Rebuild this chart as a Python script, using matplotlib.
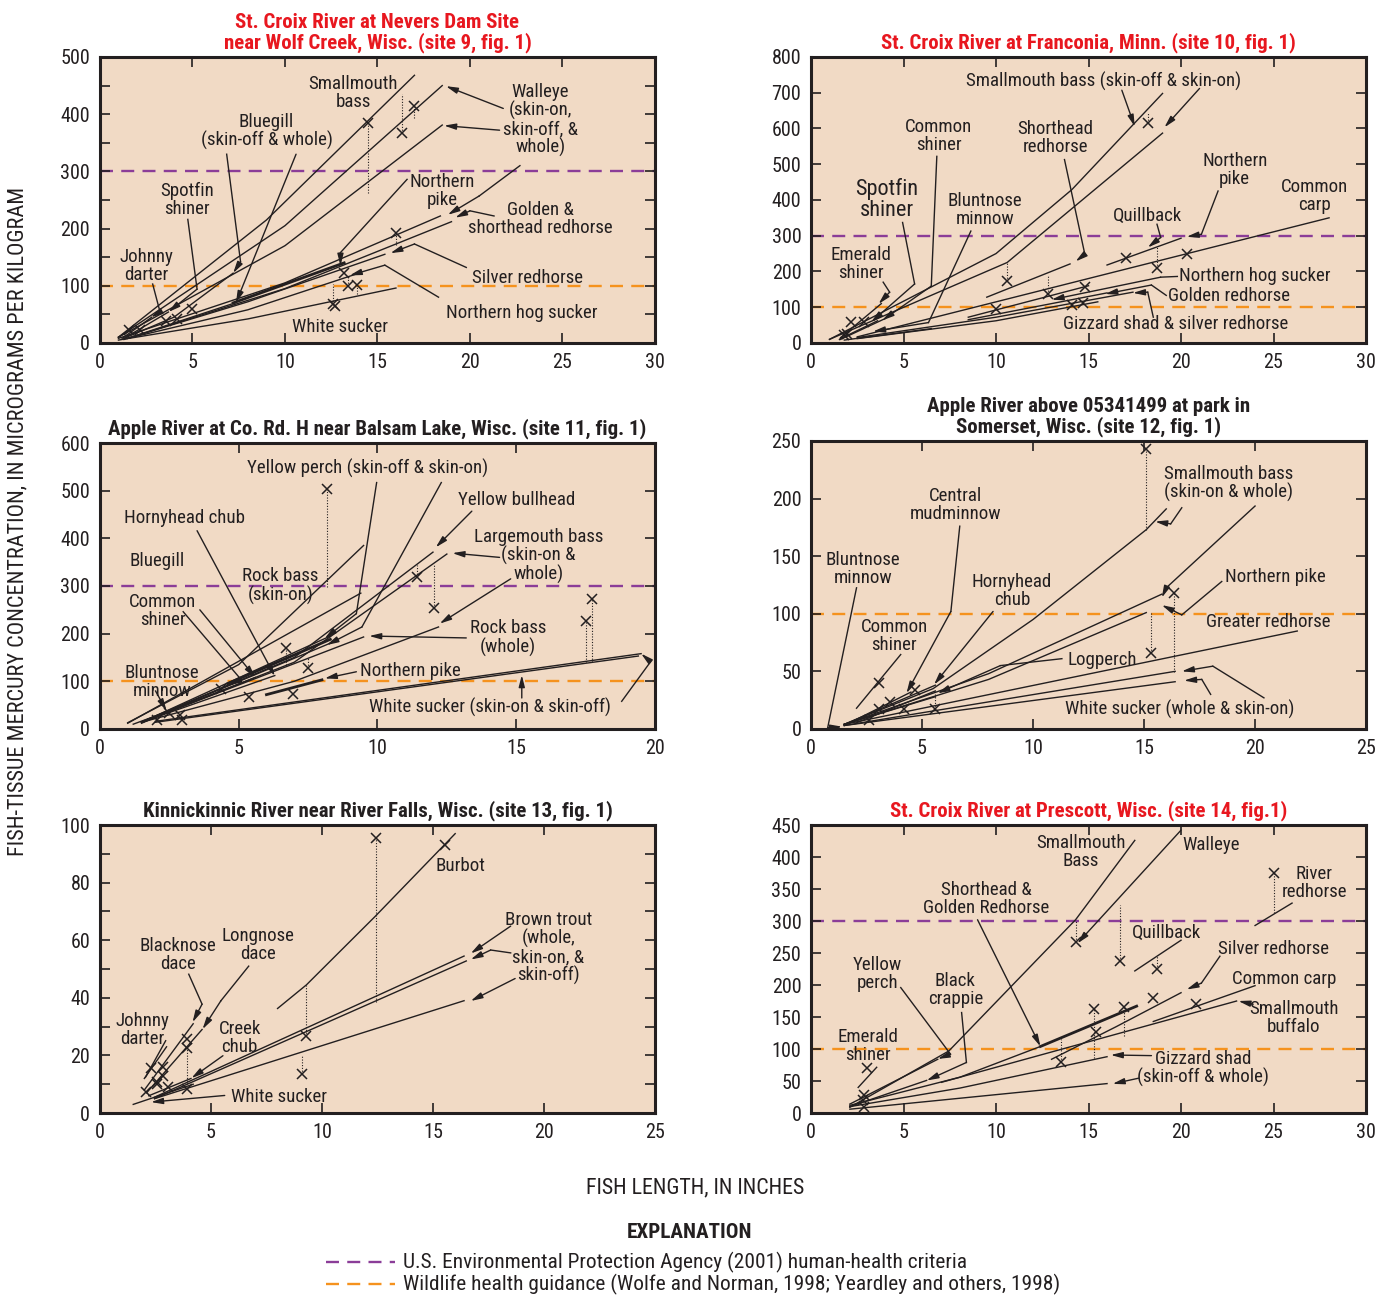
import matplotlib
matplotlib.use("Agg")
import matplotlib.pyplot as plt
from matplotlib import font_manager

# pick a narrow sans if one is installed
names = {f.name for f in font_manager.fontManager.ttflist}
narrow = [n for n in ["Liberation Sans Narrow", "Roboto Condensed", "DejaVu Sans Condensed"] if n in names]
plt.rcParams["font.family"] = narrow + ["DejaVu Sans"]

TAN = "#F1DAC5"
INK = "#231F20"
RED = "#E8171F"
PURPLE = "#8B3D98"
ORANGE = "#F5921E"

EPA_LEVEL = 300
WILDLIFE_LEVEL = 100

# ---------------- site 9: St. Croix at Nevers Dam ----------------
site9_curves = [
    ([1.0, 9.0, 17.0], [10, 215, 468]),
    ([1.0, 10.0, 18.5], [10, 205, 450]),
    ([1.0, 10.0, 18.5], [10, 170, 381]),
    ([1.0, 10.0, 18.4], [8, 105, 222]),
    ([1.5, 10.0, 19.0], [8, 95, 212]),
    ([1.5, 8.0, 15.4], [8, 72, 155]),
    ([1.5, 8.0, 14.0], [8, 58, 122]),
    ([1.0, 8.0, 16.0], [5, 42, 96]),
    ([1.3, 4.0, 7.2], [8, 45, 122]),
    ([1.3, 7.3], [6, 70]),
    ([1.3, 3.7], [8, 54]),
    ([1.2, 2.8], [8, 45]),
]
site9_heavy = [([7.2, 13.2], [70, 140])]
site9_fish_x = [1.56, 2.16, 3.55, 4.15, 5.0, 12.6, 12.7, 13.2, 13.4, 13.9, 14.5, 16.0, 16.3, 17.0]
site9_fish_y = [22, 22, 39, 41, 60, 68, 65, 123, 100, 101, 384, 193, 367, 414]
site9_pairs = [(14.5, 262, 384), (16.3, 367, 436), (17.0, 393, 414), (16.0, 171, 193),
               (12.6, 68, 103), (13.4, 100, 118), (13.9, 85, 101)]
site9_labels = [
    ("Smallmouth\nbass", 13.7, 437), ("Walleye\n(skin-on,\nskin-off, &\nwhole)", 23.8, 390),
    ("Bluegill\n(skin-off & whole)", 9.0, 369), ("Spotfin\nshiner", 4.7, 250),
    ("Johnny\ndarter", 2.5, 135), ("Northern\npike", 18.5, 266),
    ("Golden &\nshorthead redhorse", 23.8, 217), ("Silver redhorse", 23.1, 114),
    ("Northern hog sucker", 22.8, 52), ("White sucker", 13.0, 28),
]
site9_leaders = [
    [(21.8, 410), (18.7, 449)],
    [(21.6, 372), (18.6, 380)],
    [(22.7, 310), (20.5, 257), (18.8, 224)],
    [(21.3, 222), (20.0, 231), (19.2, 219)],
    [(19.8, 132), (17.0, 173), (15.7, 157)],
    [(18.3, 80), (15.4, 136), (13.5, 118)],
    [(16.6, 286), (13.0, 158), (13.0, 135)],
    [(6.85, 330), (7.6, 142), (7.2, 122)],
    [(10.6, 330), (7.35, 70)],
    [(4.75, 216), (5.25, 94), (3.7, 54)],
    [(2.85, 103), (3.25, 54), (2.75, 45)],
]

# ---------------- site 10: St. Croix at Franconia ----------------
site10_curves = [
    ([1.0, 10.0, 14.1, 19.0], [10, 250, 429, 698]),
    ([1.0, 10.6, 19.0], [10, 225, 587]),
    ([9.5, 14.0], [128, 221]),
    ([16.0, 20.0], [218, 293]),
    ([2.5, 28.0], [17, 350]),
    ([8.5, 15.0], [72, 160]),
    ([8.5, 16.0], [65, 140]),
    ([2.5, 10.0, 17.4], [15, 72, 142]),
    ([2.5, 10.0, 15.5], [12, 62, 115]),
    ([1.6, 3.8], [15, 110]),
    ([1.6, 3.6], [12, 62]),
    ([1.6, 4.0], [10, 68]),
    ([1.8, 6.5], [8, 40]),
]
site10_heavy = []
site10_fish_x = [1.76, 1.96, 2.16, 2.85, 10.0, 10.6, 12.8, 14.1, 14.7, 14.8, 17.0, 18.2, 18.7, 20.3]
site10_fish_y = [21, 26, 58, 58, 94, 172, 137, 107, 112, 156, 239, 615, 211, 248]
site10_pairs = [(18.2, 615, 647), (10.6, 172, 225), (12.8, 137, 190), (18.7, 211, 271)]
site10_labels = [
    ("Smallmouth bass (skin-off & skin-on)", 15.8, 733), ("Common\nshiner", 6.9, 579),
    ("Shorthead\nredhorse", 13.2, 573), ("Northern\npike", 22.9, 484),
    ("Common\ncarp", 27.2, 411), ("Bluntnose\nminnow", 9.4, 372),
    ("Quillback", 18.2, 355), ("Emerald\nshiner", 2.7, 221),
    ("Gizzard shad & silver redhorse", 19.7, 53),
]
site10_big_labels = [("Spotfin\nshiner", 4.1, 400)]
site10_left_labels = [("Northern hog sucker", 19.9, 187), ("Golden redhorse", 19.3, 131)]
site10_leaders = [
    [(16.8, 707), (17.5, 605)],
    [(21.0, 712), (19.1, 603)],
    [(13.7, 513), (14.8, 248), (14.3, 228)],
    [(6.8, 522), (6.5, 159), (3.85, 63)],
    [(4.95, 337), (5.6, 165), (3.25, 58)],
    [(8.64, 313), (6.35, 57), (3.35, 32)],
    [(3.9, 170), (4.25, 142), (3.65, 109)],
    [(18.7, 332), (18.9, 295), (18.2, 267)],
    [(22.0, 425), (21.1, 304), (20.3, 297)],
    [(19.8, 186), (18.9, 184), (13.0, 121)],
    [(19.2, 133), (18.4, 162), (15.9, 137)],
    [(18.5, 72), (18.2, 142), (17.4, 140)],
]

# ---------------- site 11: Apple River near Balsam Lake ----------------
site11_curves = [
    ([1.0, 5.0, 9.5], [13, 135, 385]),
    ([1.0, 9.4], [12, 285]),
    ([1.5, 8.3], [14, 195]),
    ([1.5, 8.3], [14, 180]),
    ([1.5, 7.0, 12.0], [15, 150, 371]),
    ([1.5, 7.0, 12.5], [15, 140, 367]),
    ([1.5, 7.0, 12.2], [14, 100, 214]),
    ([1.5, 9.5], [14, 193]),
    ([2.0, 19.5], [16, 158]),
    ([2.0, 19.4], [14, 153]),
    ([1.5, 6.3], [14, 112]),
    ([1.5, 5.6], [13, 108]),
    ([1.5, 4.7], [12, 94]),
    ([1.2, 2.6], [10, 40]),
]
site11_heavy = [([6.0, 8.0], [72, 103]), ([4.6, 8.3], [95, 188])]
site11_fish_x = [2.04, 2.5, 2.9, 2.97, 4.37, 5.37, 6.7, 6.95, 7.48, 8.17, 11.44, 12.04, 17.5, 17.73]
site11_fish_y = [19, 33, 30, 19, 84, 68, 169, 74, 127, 504, 318, 254, 226, 273]
site11_pairs = [(8.17, 298, 504), (11.44, 318, 343), (12.04, 254, 346), (17.73, 141, 273),
                (17.5, 141, 226), (6.7, 134, 169), (7.48, 127, 152)]
site11_labels = [
    ("Yellow perch (skin-off & skin-on)", 9.66, 547), ("Yellow bullhead", 15.0, 480),
    ("Hornyhead chub", 3.06, 443), ("Largemouth bass\n(skin-on &\nwhole)", 15.8, 363),
    ("Bluegill", 2.05, 352), ("Rock bass\n(skin-on)", 6.5, 300),
    ("Common\nshiner", 2.27, 248), ("Rock bass\n(whole)", 14.7, 191),
    ("Bluntnose\nminnow", 2.23, 99), ("Northern pike", 11.2, 122),
    ("White sucker (skin-on & skin-off)", 14.05, 46),
]
site11_leaders = [
    [(9.97, 517), (9.24, 242), (8.1, 190)],
    [(12.3, 517), (9.44, 214), (8.17, 176)],
    [(13.4, 457), (12.1, 381)],
    [(14.4, 360), (12.7, 369)],
    [(14.8, 315), (12.24, 221)],
    [(13.2, 191), (9.7, 195)],
    [(9.24, 120), (8.1, 106)],
    [(15.2, 65), (15.2, 113)],
    [(18.8, 58), (19.84, 141), (19.5, 158)],
    [(3.5, 416), (6.3, 111)],
    [(3.6, 250), (5.6, 108)],
    [(3.0, 246), (5.08, 104), (4.66, 92)],
    [(2.0, 80), (2.4, 38)],
]

# ---------------- site 12: Apple River at Somerset ----------------
site12_curves = [
    ([1.5, 5.5, 10.0, 15.1, 16.0], [4, 35, 95, 173, 191]),
    ([1.5, 8.0, 15.8], [4, 48, 117]),
    ([1.5, 8.0, 15.1], [4, 43, 101]),
    ([1.5, 21.9], [4, 85]),
    ([1.5, 16.4], [3, 50]),
    ([1.5, 16.4], [3, 41]),
    ([2.0, 5.6], [5, 33]),
    ([1.5, 4.5], [3, 32]),
    ([1.5, 5.6], [4, 38]),
    ([1.5, 5.6], [4, 28]),
]
site12_heavy = []
site12_fish_x = [2.63, 3.05, 3.08, 3.54, 4.2, 4.67, 5.57, 15.1, 15.3, 16.35]
site12_fish_y = [8, 40, 17, 23, 17, 34, 17, 243, 66, 118]
site12_pairs = [(15.1, 173, 243), (15.3, 66, 101), (16.35, 49.5, 118), (5.57, 17, 33)]
site12_labels = [
    ("Smallmouth bass\n(skin-on & whole)", 18.8, 213), ("Central\nmudminnow", 6.5, 194),
    ("Bluntnose\nminnow", 2.34, 139), ("Hornyhead\nchub", 9.05, 120),
    ("Northern pike", 20.9, 132), ("Greater redhorse", 20.6, 93),
    ("Common\nshiner", 3.74, 81), ("Logperch", 13.1, 60),
    ("White sucker (whole & skin-on)", 16.6, 17),
]
site12_leaders = [
    [(16.7, 192), (16.2, 178), (15.5, 180)],
    [(20.0, 193.5), (16.0, 122.5), (15.8, 114)],
    [(18.5, 128), (16.7, 99), (15.8, 107.5)],
    [(6.7, 176), (6.3, 102), (4.3, 31)],
    [(8.2, 102), (5.54, 38.5)],
    [(11.3, 61), (8.53, 55), (5.7, 31)],
    [(20.4, 27), (18.1, 54.5), (16.7, 50)],
    [(18.0, 30), (17.6, 43), (16.8, 42)],
    [(2.05, 122.5), (0.75, 1), (1.4, 2)],
]
site12_ties = [[(4.04, 64.6), (2.05, 18)]]

# ---------------- site 13: Kinnickinnic River ----------------
site13_curves = [
    ([8.0, 9.3, 12.4, 15.5, 16.0], [36.3, 44.5, 68.3, 93, 97]),
    ([2.46, 16.4], [5.5, 54.5]),
    ([2.46, 16.5], [5.0, 52.8]),
    ([2.46, 16.4], [5.0, 39]),
    ([2.0, 4.2], [8, 31]),
    ([2.1, 4.6], [7, 29]),
    ([2.0, 3.0], [12, 23]),
    ([2.2, 4.1], [6, 12]),
    ([1.5, 4.2], [3, 10]),
]
site13_heavy = []
site13_fish_x = [2.08, 2.3, 2.55, 2.58, 2.84, 2.84, 3.08, 3.93, 3.93, 3.93, 9.11, 9.28, 12.44, 15.55]
site13_fish_y = [7.3, 15.6, 10.7, 10.1, 15.9, 13.0, 9.0, 25.7, 22.5, 8.4, 13.6, 26.6, 95.4, 93.1]
site13_pairs = [(12.44, 38.4, 95.4), (9.28, 26.6, 44.5), (9.11, 13.6, 19.9), (3.93, 10, 22.5)]
site13_labels = [
    ("Brown trout\n(whole,\nskin-on, &\nskin-off)", 20.2, 57.3), ("Longnose\ndace", 7.1, 58.3),
    ("Blacknose\ndace", 3.5, 54.9), ("Johnny\ndarter", 1.9, 28.8),
    ("Creek\nchub", 6.3, 26), ("White sucker", 8.06, 5.6),
]
site13_left_labels = [("Burbot", 15.1, 85.8)]
site13_leaders = [
    [(4.0, 48.2), (4.6, 37.8), (4.17, 31.5)],
    [(6.7, 51), (5.45, 39), (4.62, 29.1)],
    [(5.54, 19.9), (4.12, 12.1)],
    [(5.62, 6.1), (2.3, 3.8)],
    [(18.5, 64.9), (16.7, 55.4)],
    [(18.5, 55.6), (17.6, 56.6), (16.7, 53.3)],
    [(18.7, 46.7), (16.7, 38.9)],
]
site13_ties = [[(2.96, 25.1), (2.05, 12.4)]]

# ---------------- site 14: St. Croix at Prescott ----------------
site14_curves = [
    ([2.1, 7.45, 14.3, 17.5], [9, 97, 302, 426]),
    ([2.1, 8.05, 12.4], [12, 56, 104]),
    ([13.0, 16.5, 20.0], [84, 135, 188]),
    ([17.5, 20.0], [222, 270]),
    ([18.5, 24.0], [143, 199]),
    ([7.05, 23.0], [48, 175]),
    ([24.0, 26.0], [293, 328]),
    ([2.1, 8.05, 16.0], [10, 39, 88]),
    ([2.1, 16.0], [6, 46]),
    ([2.1, 6.85], [14, 84]),
    ([2.1, 6.25], [10, 51]),
    ([2.55, 3.55], [40, 71.5]),
]
site14_heavy = [([12.4, 17.6], [104, 167])]
site14_fish_x = [2.85, 2.8, 2.85, 3.0, 13.5, 14.3, 15.3, 15.4, 16.7, 16.9, 18.5, 18.7, 20.8, 25.0]
site14_fish_y = [27.5, 19.7, 9.3, 70, 80.4, 267, 163, 126, 237, 165, 180, 225.5, 170, 375]
site14_pairs = [(13.5, 80.4, 115.6), (14.3, 267, 302), (15.3, 85.5, 163), (16.9, 120.8, 165),
                (16.7, 237, 325.6), (18.7, 225.5, 245), (25.0, 312.6, 375)]
site14_labels = [
    ("Smallmouth\nBass", 14.6, 408), ("Walleye", 21.6, 419), ("River\nredhorse", 27.2, 359),
    ("Shorthead &\nGolden Redhorse", 9.46, 334), ("Quillback", 19.2, 281),
    ("Silver redhorse", 25.0, 256), ("Yellow\nperch", 3.6, 217), ("Black\ncrappie", 7.8, 192),
    ("Common carp", 25.6, 209), ("Smallmouth\nbuffalo", 26.1, 148),
    ("Emerald\nshiner", 3.1, 105), ("Gizzard shad\n(skin-off & whole)", 21.2, 70),
]
site14_leaders = [
    [(20.0, 442), (14.4, 265)],
    [(9.0, 302), (12.4, 104)],
    [(22.1, 245), (21.1, 203), (20.3, 193)],
    [(4.85, 196), (7.54, 92), (6.85, 84.5)],
    [(8.14, 157), (8.4, 79), (6.25, 50.8)],
    [(23.9, 170), (23.1, 175)],
    [(18.4, 89.7), (16.2, 90.7)],
    [(17.7, 54.4), (16.3, 45.6)],
]

panels = [
    dict(rect=[0.0720, 0.7358, 0.3999, 0.2203], title="St. Croix River at Nevers Dam Site\nnear Wolf Creek, Wisc. (site 9, fig. 1)",
         tcolor=RED, xmax=30, ymax=500, xstep=5, ystep=100, yminor=50,
         curves=site9_curves, heavy=site9_heavy, fx=site9_fish_x, fy=site9_fish_y, pairs=site9_pairs,
         labels=site9_labels, big=[], left=[], leaders=site9_leaders, ties=[]),
    dict(rect=[0.5843, 0.7358, 0.3999, 0.2203], title="St. Croix River at Franconia, Minn. (site 10, fig. 1)",
         tcolor=RED, xmax=30, ymax=800, xstep=5, ystep=100, yminor=100,
         curves=site10_curves, heavy=site10_heavy, fx=site10_fish_x, fy=site10_fish_y, pairs=site10_pairs,
         labels=site10_labels, big=site10_big_labels, left=site10_left_labels, leaders=site10_leaders, ties=[]),
    dict(rect=[0.0720, 0.4384, 0.3999, 0.2203], title="Apple River at Co. Rd. H near Balsam Lake, Wisc. (site 11, fig. 1)",
         tcolor=INK, xmax=20, ymax=600, xstep=5, ystep=100, yminor=100,
         curves=site11_curves, heavy=site11_heavy, fx=site11_fish_x, fy=site11_fish_y, pairs=site11_pairs,
         labels=site11_labels, big=[], left=[], leaders=site11_leaders, ties=[]),
    dict(rect=[0.5843, 0.4384, 0.3999, 0.2219], title="Apple River above 05341499 at park in\nSomerset, Wisc. (site 12, fig. 1)",
         tcolor=INK, xmax=25, ymax=250, xstep=5, ystep=50, yminor=50,
         curves=site12_curves, heavy=site12_heavy, fx=site12_fish_x, fy=site12_fish_y, pairs=site12_pairs,
         labels=site12_labels, big=[], left=[], leaders=site12_leaders, ties=site12_ties),
    dict(rect=[0.0720, 0.1425, 0.3999, 0.2219], title="Kinnickinnic River near River Falls, Wisc. (site 13, fig. 1)",
         tcolor=INK, xmax=25, ymax=100, xstep=5, ystep=20, yminor=10,
         curves=site13_curves, heavy=site13_heavy, fx=site13_fish_x, fy=site13_fish_y, pairs=site13_pairs,
         labels=site13_labels, big=[], left=site13_left_labels, leaders=site13_leaders, ties=site13_ties),
    dict(rect=[0.5843, 0.1425, 0.3999, 0.2219], title="St. Croix River at Prescott, Wisc. (site 14, fig.1)",
         tcolor=RED, xmax=30, ymax=450, xstep=5, ystep=50, yminor=50,
         curves=site14_curves, heavy=site14_heavy, fx=site14_fish_x, fy=site14_fish_y, pairs=site14_pairs,
         labels=site14_labels, big=[], left=[], leaders=site14_leaders, ties=[]),
]

fig = plt.figure(figsize=(13.88, 12.98), dpi=100)
FS = 13.6

for p in panels:
    ax = fig.add_axes(p["rect"])
    ax.set_facecolor(TAN)
    ax.set_xlim(0, p["xmax"])
    ax.set_ylim(0, p["ymax"])
    ax.set_xticks(range(0, p["xmax"] + 1, p["xstep"]))
    ax.set_yticks(range(0, p["ymax"] + 1, p["ystep"]))
    ax.set_yticks(range(0, p["ymax"] + 1, p["yminor"]), minor=True)
    ax.tick_params(which="both", direction="in", top=True, right=True, length=7, width=1.2,
                   labelsize=14.5, pad=7, colors=INK)
    for s in ax.spines.values():
        s.set_linewidth(2.2)
        s.set_color(INK)
    ax.set_title(p["title"], color=p["tcolor"], fontsize=15, fontweight="bold", pad=6, linespacing=1.05)

    for lvl, col in [(EPA_LEVEL, PURPLE), (WILDLIFE_LEVEL, ORANGE)]:
        if lvl < p["ymax"]:
            ax.axhline(lvl, color=col, lw=1.7, dashes=(5.5, 3.5), zorder=1)

    for xs, ys in p["curves"]:
        ax.plot(xs, ys, color=INK, lw=1.0, zorder=3)
    for xs, ys in p["heavy"]:
        ax.plot(xs, ys, color=INK, lw=2.0, zorder=3)
    for x, y0, y1 in p["pairs"]:
        ax.plot([x, x], [y0, y1], color=INK, lw=0.8, ls=(0, (1, 1.5)), zorder=2)
    ax.plot(p["fx"], p["fy"], ls="none", marker="x", ms=7, mew=1.1, color=INK, zorder=4)

    for txt, x, y in p["labels"]:
        ax.text(x, y, txt, ha="center", va="center", fontsize=FS, color=INK, linespacing=1.0, zorder=5)
    for txt, x, y in p["big"]:
        ax.text(x, y, txt, ha="center", va="center", fontsize=16, color=INK, linespacing=1.0, zorder=5)
    for txt, x, y in p["left"]:
        ax.text(x, y, txt, ha="left", va="center", fontsize=FS, color=INK, zorder=5)

    for pts in p["leaders"]:
        xs = [q[0] for q in pts]
        ys = [q[1] for q in pts]
        if len(pts) > 2:
            ax.plot(xs[:-1], ys[:-1], color=INK, lw=1.0, zorder=5)
        ax.annotate("", xy=pts[-1], xytext=pts[-2],
                    arrowprops=dict(arrowstyle="-|>,head_length=0.7,head_width=0.18",
                                    color=INK, lw=1.0, shrinkA=0, shrinkB=0), zorder=5)
    for pts in p["ties"]:
        ax.plot([q[0] for q in pts], [q[1] for q in pts], color=INK, lw=1.0, zorder=5)

fig.text(0.013, 0.598, "FISH-TISSUE MERCURY CONCENTRATION, IN MICROGRAMS PER KILOGRAM",
         rotation=90, ha="center", va="center", fontsize=16, color=INK)
fig.text(0.5007, 0.0847, "FISH LENGTH, IN INCHES", ha="center", va="center", fontsize=15.8, color=INK)
fig.text(0.4964, 0.0508, "EXPLANATION", ha="center", va="center", fontsize=15.2, fontweight="bold", color=INK)

legend_rows = [
    (PURPLE, "U.S. Environmental Protection Agency (2001) human-health criteria", 0.0277),
    (ORANGE, "Wildlife health guidance (Wolfe and Norman, 1998; Yeardley and others, 1998)", 0.0108),
]
for col, txt, y in legend_rows:
    fig.add_artist(plt.Line2D([0.2349, 0.2846], [y, y], color=col, lw=1.7, dashes=(5.5, 3.5)))
    fig.text(0.2903, y, txt, ha="left", va="center", fontsize=15.4, color=INK)

fig.savefig("out.png", dpi=100, facecolor="white")
